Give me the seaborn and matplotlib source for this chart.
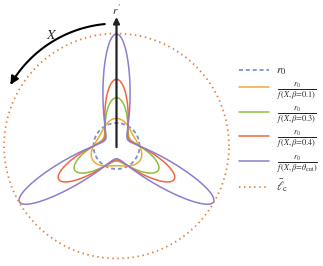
import numpy as np
import pandas as pd
import matplotlib.pyplot as plt
import seaborn as sns
from matplotlib.patches import FancyArrowPatch
from matplotlib.path import Path

# valores (r0 = 1)
r0 = 1.0
lc = 4.89
beta_labels = ["0.1", "0.3", "0.4", r"\theta_{\rm cut}"]
pico_lobo = [1.20, 2.10, 2.90, 4.87]   # raio máximo de cada lóbulo / r0
cores = ["#f0aa35", "#8dbe45", "#f2663f", "#8e7cd0"]
cor_r0 = "#7096cc"
cor_lc = "#e2813f"

sns.set_style("white")
plt.rcParams["mathtext.fontset"] = "stix"

fig = plt.figure(figsize=(3.23, 2.66), dpi=100)
ax = fig.add_axes([0, 0, 233 / 323, 1])
ax.axis("off")
ax.set_xlim(-116.5 / 23, 116.5 / 23)
ax.set_ylim(-120 / 23, 146 / 23)

X = np.linspace(0, 2 * np.pi, 1200)

# circulo r0
df = pd.DataFrame({"x": r0 * np.cos(X), "y": r0 * np.sin(X)})
sns.lineplot(data=df, x="x", y="y", sort=False, estimator=None, ax=ax,
             color=cor_r0, lw=1.3, linestyle=(0, (2.2, 1.6)),
             label=r"$r_0$")

# curvas r0 / f(X, beta), X medido a partir do eixo vertical
for b, pk, c in zip(beta_labels, pico_lobo, cores):
    k = 1 - 1 / pk
    r = r0 / (1 - k * np.cos(3 * X))
    df = pd.DataFrame({"x": -r * np.sin(X), "y": r * np.cos(X)})
    sns.lineplot(data=df, x="x", y="y", sort=False, estimator=None, ax=ax,
                 color=c, lw=1.1,
                 label=r"$\frac{r_0}{f\,(X,\beta\!=\!%s)}$" % b)

# circulo l_c
df = pd.DataFrame({"x": lc * np.cos(X), "y": lc * np.sin(X)})
sns.lineplot(data=df, x="x", y="y", sort=False, estimator=None, ax=ax,
             color=cor_lc, lw=1.3, linestyle=(0, (0.8, 2.0)),
             label=r"$\bar{\ell}_{\rm c}$")

# eixo r'
ax.annotate("", xy=(0, 129 / 23), xytext=(0, -0.05),
            arrowprops=dict(arrowstyle="-|>", lw=1.6, color="#222222",
                            mutation_scale=9, shrinkA=0, shrinkB=0))
ax.text(0, 136 / 23, r"$r'$", ha="center", va="center", fontsize=8)

# seta curva X
ang = np.radians(np.linspace(95.5, 150, 60))
R = 122.5 / 23
arco = Path(np.column_stack([R * np.cos(ang), R * np.sin(ang)]))
ax.add_patch(FancyArrowPatch(path=arco, arrowstyle="-|>", lw=1.5,
                             color="black", mutation_scale=12))
ax.text(-2.80, 4.83, r"$X$", ha="center", va="center", fontsize=10)

ax.get_legend().remove()
h, l = ax.get_legend_handles_labels()
fig.legend(h, l, loc="center left", bbox_to_anchor=(234 / 323, 0.515),
           frameon=False, fontsize=8.5, handlelength=2.6, handletextpad=0.6,
           labelspacing=0.25, borderaxespad=0)

fig.savefig("out.png", dpi=100)
